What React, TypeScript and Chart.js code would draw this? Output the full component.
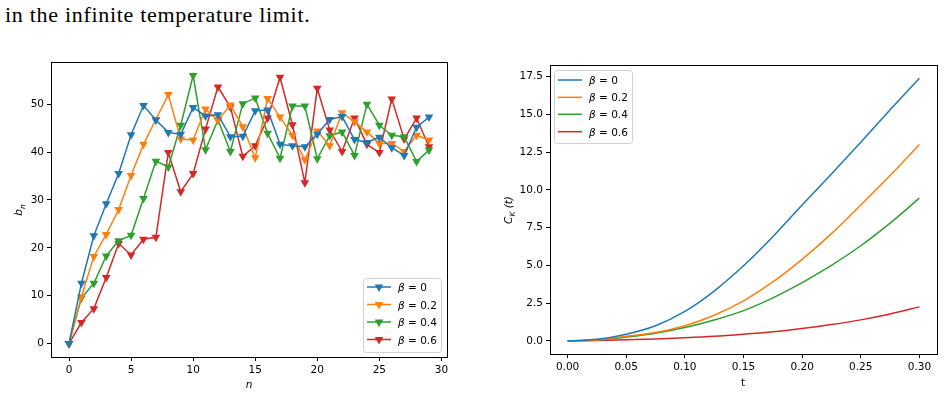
import React, { useEffect, useRef } from "react";
import { Chart, registerables } from "chart.js";

Chart.register(...registerables);

// Lanczos coefficients b_n against step n, one series per inverse temperature
const nSteps = [0, 1, 2, 3, 4, 5, 6, 7, 8, 9, 10, 11, 12, 13, 14, 15, 16, 17, 18, 19, 20, 21, 22, 23, 24, 25, 26, 27, 28, 29];
const bnBeta0 = [0, 12.6, 22.5, 29.2, 35.5, 43.6, 49.7, 46.7, 44.1, 43.7, 49.3, 47.5, 47.8, 43.2, 43.3, 48.6, 48.8, 41.6, 41.3, 41.1, 43.7, 46.8, 47.4, 42.6, 42.0, 43.1, 40.9, 39.3, 45.2, 47.3];
const bnBeta02 = [0, 9.8, 18.2, 22.8, 28.0, 35.1, 41.6, 46.8, 52.0, 42.7, 42.5, 49.0, 46.6, 49.8, 45.3, 38.8, 51.2, 47.3, 43.5, 38.4, 44.4, 41.3, 48.2, 46.3, 44.2, 41.8, 41.8, 40.1, 43.5, 42.5];
const bnBeta04 = [0, 9.5, 12.6, 18.3, 21.5, 22.6, 30.3, 38.1, 36.9, 45.6, 56.0, 40.5, 46.7, 40.1, 50.1, 51.3, 43.9, 38.7, 49.6, 49.6, 38.6, 43.4, 44.2, 39.3, 50.0, 45.6, 43.5, 43.2, 38.0, 40.4];
const bnBeta06 = [0, 4.4, 7.3, 13.8, 20.9, 18.5, 21.8, 22.2, 39.9, 31.7, 35.5, 44.8, 53.6, 49.4, 39.1, 41.3, 47.1, 55.6, 45.7, 33.6, 53.3, 44.6, 40.1, 47.1, 41.6, 39.9, 51.1, 42.7, 47.1, 41.1];

// Krylov complexity C_K(t)
const tValues = [0, 0.025, 0.05, 0.075, 0.1, 0.125, 0.15, 0.175, 0.2, 0.225, 0.25, 0.275, 0.3];
const ckBeta0 = [0, 0.1, 0.44, 1.0, 1.95, 3.3, 4.97, 6.9, 9.0, 11.05, 13.15, 15.3, 17.4];
const ckBeta02 = [0, 0.06, 0.3, 0.55, 1.0, 1.7, 2.65, 3.9, 5.4, 7.1, 9.0, 10.95, 13.0];
const ckBeta04 = [0, 0.05, 0.25, 0.5, 0.88, 1.38, 2.0, 2.85, 3.86, 5.0, 6.3, 7.8, 9.45];
const ckBeta06 = [0, 0.02, 0.07, 0.12, 0.2, 0.3, 0.44, 0.6, 0.82, 1.08, 1.39, 1.78, 2.25];

const betaLabels = ["0", "0.2", "0.4", "0.6"];
const seriesColors = ["#1f77b4", "#ff7f0e", "#2ca02c", "#d62728"];

const bnTicksX = [0, 5, 10, 15, 20, 25, 30];
const bnTicksY = [0, 10, 20, 30, 40, 50];
const ckTicksX = [0, 0.05, 0.1, 0.15, 0.2, 0.25, 0.3];
const ckTicksY = [0, 2.5, 5, 7.5, 10, 12.5, 15, 17.5];

const FONT = "'DejaVu Sans', sans-serif";
const TICK_SIZE = 10.5;

type Piece = { text: string; italic?: boolean; sub?: boolean };

function drawPieces(ctx: CanvasRenderingContext2D, pieces: Piece[], x: number, y: number, align: "left" | "center") {
  const fontFor = (p: Piece) => `${p.italic ? "italic " : ""}${p.sub ? 7.5 : TICK_SIZE}px ${FONT}`;
  let total = 0;
  for (const p of pieces) {
    ctx.font = fontFor(p);
    total += ctx.measureText(p.text).width;
  }
  let cx = align === "center" ? x - total / 2 : x;
  ctx.textBaseline = "alphabetic";
  ctx.textAlign = "left";
  for (const p of pieces) {
    ctx.font = fontFor(p);
    ctx.fillText(p.text, cx, p.sub ? y + 2.5 : y);
    cx += ctx.measureText(p.text).width;
  }
}

type Decor = {
  xTitle: Piece[];
  xTitlePos: [number, number];
  yTitle: Piece[];
  yTitlePos: [number, number];
  legendBox: [number, number, number, number];
  legendRows: number[];
  legendLine: [number, number];
  legendText: number;
  markers: boolean;
};

function decorPlugin(decor: Decor) {
  return {
    id: "decor",
    afterDraw(chart: any) {
      const ctx: CanvasRenderingContext2D = chart.ctx;
      const a = chart.chartArea;
      ctx.save();
      // axes frame
      ctx.strokeStyle = "#000";
      ctx.lineWidth = 1;
      ctx.strokeRect(Math.round(a.left) + 0.5, Math.round(a.top) + 0.5, Math.round(a.right - a.left), Math.round(a.bottom - a.top));

      ctx.fillStyle = "#000";
      drawPieces(ctx, decor.xTitle, decor.xTitlePos[0], decor.xTitlePos[1], "center");
      ctx.save();
      ctx.translate(decor.yTitlePos[0], decor.yTitlePos[1]);
      ctx.rotate(-Math.PI / 2);
      drawPieces(ctx, decor.yTitle, 0, 0, "center");
      ctx.restore();

      // legend
      const [bx, by, bw, bh] = decor.legendBox;
      ctx.beginPath();
      ctx.roundRect(bx + 0.5, by + 0.5, bw, bh, 3);
      ctx.fillStyle = "rgba(255,255,255,0.8)";
      ctx.fill();
      ctx.strokeStyle = "#d0d0d0";
      ctx.lineWidth = 1;
      ctx.stroke();
      chart.data.datasets.forEach((ds: any, i: number) => {
        const ry = decor.legendRows[i];
        ctx.strokeStyle = ds.borderColor;
        ctx.lineWidth = 1.5;
        ctx.beginPath();
        ctx.moveTo(decor.legendLine[0], ry);
        ctx.lineTo(decor.legendLine[1], ry);
        ctx.stroke();
        if (decor.markers) {
          const mx = (decor.legendLine[0] + decor.legendLine[1]) / 2;
          const r = 5;
          ctx.fillStyle = ds.borderColor;
          ctx.beginPath();
          ctx.moveTo(mx, ry + r);
          ctx.lineTo(mx - r * 0.866, ry - r / 2);
          ctx.lineTo(mx + r * 0.866, ry - r / 2);
          ctx.closePath();
          ctx.fill();
        }
        ctx.fillStyle = "#000";
        drawPieces(ctx, [{ text: "β", italic: true }, { text: " = " + betaLabels[i] }], decor.legendText, ry + 4, "left");
      });
      ctx.restore();
    },
  };
}

function axis(
  min: number,
  max: number,
  ticks: number[],
  fmt: (v: number) => string,
  size: { width?: number; height?: number }
) {
  return {
    type: "linear" as const,
    min,
    max,
    afterBuildTicks: (s: any) => {
      s.ticks = ticks.map((v) => ({ value: v }));
    },
    afterFit: (s: any) => {
      if (size.width !== undefined) s.width = size.width;
      if (size.height !== undefined) s.height = size.height;
    },
    ticks: {
      color: "#000",
      font: { family: FONT, size: TICK_SIZE },
      padding: 3,
      maxRotation: 0,
      autoSkip: false,
      callback: (v: any) => fmt(Number(v)),
    },
    grid: { drawOnChartArea: false, drawTicks: true, tickLength: 4, color: "#000", lineWidth: 1 },
    border: { display: false },
  };
}

function LanczosChart() {
  const ref = useRef<HTMLCanvasElement>(null);
  useEffect(() => {
    const series = [bnBeta0, bnBeta02, bnBeta04, bnBeta06];
    const chart = new Chart(ref.current!, {
      type: "line",
      data: {
        datasets: series.map((vals, i) => ({
          label: "β = " + betaLabels[i],
          data: nSteps.map((n, k) => ({ x: n, y: vals[k] })),
          borderColor: seriesColors[i],
          backgroundColor: seriesColors[i],
          borderWidth: 1.5,
          pointStyle: "triangle",
          rotation: 180,
          pointRadius: 5,
          pointBorderWidth: 0,
          tension: 0,
        })),
      },
      options: {
        responsive: false,
        animation: false,
        layout: { padding: { top: 22, right: 23, left: 0, bottom: 0 } },
        scales: {
          x: axis(-1.45, 30.45, bnTicksX, (v) => String(v), { height: 38 }),
          y: axis(-2.8, 58.8, bnTicksY, (v) => String(v), { width: 51 }),
        },
        plugins: { legend: { display: false }, tooltip: { enabled: false } },
      },
      plugins: [
        decorPlugin({
          xTitle: [{ text: "n", italic: true }],
          xTitlePos: [249, 348],
          yTitle: [{ text: "b", italic: true }, { text: "n", italic: true, sub: true }],
          yTitlePos: [22, 170],
          legendBox: [363, 238, 78, 74],
          legendRows: [247, 264.5, 282, 299.5],
          legendLine: [367, 391],
          legendText: 398,
          markers: true,
        }) as any,
      ],
    });
    return () => chart.destroy();
  }, []);
  return <canvas ref={ref} width={470} height={355} style={{ display: "block" }} />;
}

function ComplexityChart() {
  const ref = useRef<HTMLCanvasElement>(null);
  useEffect(() => {
    const series = [ckBeta0, ckBeta02, ckBeta04, ckBeta06];
    const chart = new Chart(ref.current!, {
      type: "line",
      data: {
        datasets: series.map((vals, i) => ({
          label: "β = " + betaLabels[i],
          data: tValues.map((t, k) => ({ x: t, y: vals[k] })),
          borderColor: seriesColors[i],
          backgroundColor: seriesColors[i],
          borderWidth: 1.5,
          pointRadius: 0,
          cubicInterpolationMode: "monotone" as const,
        })),
      },
      options: {
        responsive: false,
        animation: false,
        layout: { padding: { top: 25, right: 8, left: 0, bottom: 0 } },
        scales: {
          x: axis(-0.015, 0.315, ckTicksX, (v) => v.toFixed(2), { height: 41 }),
          y: axis(-0.87, 18.27, ckTicksY, (v) => v.toFixed(1), { width: 80 }),
        },
        plugins: { legend: { display: false }, tooltip: { enabled: false } },
      },
      plugins: [
        decorPlugin({
          xTitle: [{ text: "t" }],
          xTitlePos: [273, 346],
          yTitle: [{ text: "C", italic: true }, { text: "K", italic: true, sub: true }, { text: " (t)", italic: true }],
          yTitlePos: [42, 170],
          legendBox: [84, 30, 78, 73],
          legendRows: [40, 57.3, 74.3, 91.7],
          legendLine: [88, 112],
          legendText: 119,
          markers: false,
        }) as any,
      ],
    });
    return () => chart.destroy();
  }, []);
  return <canvas ref={ref} width={475} height={355} style={{ display: "block" }} />;
}

export default function App() {
  return (
    <div style={{ position: "absolute", left: 0, top: 0, width: 945, height: 395, overflow: "hidden", background: "#fff" }}>
      <div
        style={{
          position: "absolute",
          left: 5,
          top: 2,
          fontFamily: "'Liberation Serif', serif",
          fontSize: 22,
          lineHeight: "26px",
          letterSpacing: "0.7px",
          whiteSpace: "nowrap",
          color: "#000",
        }}
      >
        in the infinite temperature limit.
      </div>
      <div style={{ position: "absolute", left: 0, top: 40 }}>
        <LanczosChart />
      </div>
      <div style={{ position: "absolute", left: 470, top: 40 }}>
        <ComplexityChart />
      </div>
    </div>
  );
}
